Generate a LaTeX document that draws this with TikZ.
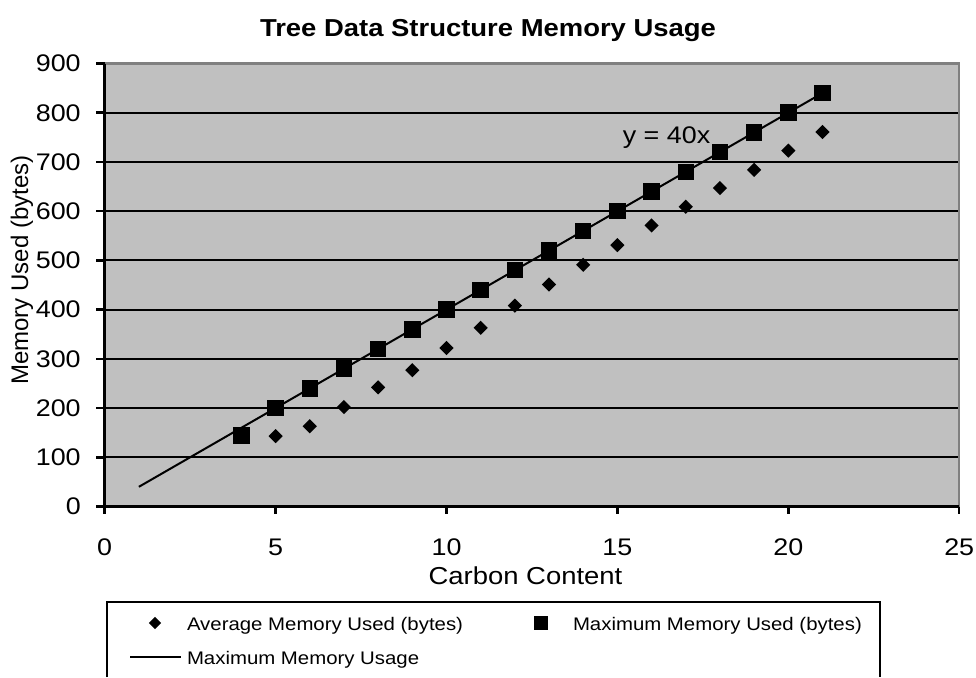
\documentclass[tikz,border=0pt]{standalone}
\usepackage{fontspec}
\setmainfont[FakeStretch=1.12]{Liberation Sans}
\newfontfamily\upfont{Liberation Sans}
\usepackage{xcolor}
\usetikzlibrary{shapes.geometric}

\definecolor{plotgray}{HTML}{C0C0C0}
\definecolor{framegray}{HTML}{808080}

\begin{document}
\begin{tikzpicture}[x=1pt,y=-1pt,line width=2pt]
  \tikzstyle{avg}=[diamond,fill=black,inner sep=0pt,minimum size=15pt]
  \tikzstyle{maxm}=[rectangle,fill=black,inner sep=0pt,minimum size=16.5pt]
  \tikzstyle{ticklabel}=[inner sep=0pt,font=\fontsize{24}{28}\selectfont]
  \tikzstyle{legendlabel}=[anchor=base west,inner sep=0pt,font=\fontsize{18.2}{22}\selectfont]

  \useasboundingbox (0,0) rectangle (976,677);

  \node[anchor=base,font=\bfseries\fontsize{24.5}{30}\selectfont] (T) at (488,36.5)
    {Tree Data Structure Memory Usage};

  \begin{scope}[shift={(104.7,506.5)},x=34.18pt,y=0.4922pt]
    \fill[plotgray] (0,0) rectangle (25,900);
    \foreach \v in {100,200,...,800}
      \draw (0,\v) -- (25,\v);
    \draw[framegray,line width=2.5pt] (0,900) -- (25,900) -- (25,0);
    \draw[line width=2.5pt] (0,900) -- (0,0) -- (25,0);

    % axis ticks and numbers
    \foreach \v in {0,100,...,900} {
      \draw[line width=2.5pt] (0,\v) -- ++(-8.7pt,0pt);
      \node[ticklabel,anchor=east] (y\v) at ([xshift=-23pt]0,\v) {\v};
    }
    \foreach \x in {0,5,...,25} {
      \draw[line width=2.5pt] (\x,0) -- ++(0pt,-7.5pt);
      \node[ticklabel,anchor=base] (x\x) at ([yshift=-48.5pt]\x,0) {\x};
    }

    % trend line
    \coordinate (P) at (1,40);
    \coordinate (Q) at (21,840);
    \draw (P) -- (Q);
    \node[ticklabel,anchor=base west] (E) at (15.13,738) {y = 40x};

    % data
    \foreach \x/\v in {4/144,5/200,6/240,7/280,8/320,9/360,10/400,11/440,12/480,
                       13/520,14/560,15/600,16/640,17/680,18/720,19/760,20/800,21/840}
      \node[maxm] (m\x) at (\x,\v) {};
    \foreach \x/\v in {5/143,6/163,7/202,8/242,9/277,10/322,11/363,12/408,13/451,
                       14/491,15/531,16/571,17/609,18/647,19/684,20/723,21/761}
      \node[avg] (a\x) at (\x,\v) {};
  \end{scope}

  \node[anchor=base,inner sep=0pt,font=\fontsize{24.5}{28}\selectfont] (X) at (525.5,584)
    {Carbon Content};
  \node[inner sep=0pt,rotate=90,font=\upfont\fontsize{24}{28}\selectfont] (Y) at (22,270)
    {Memory Used (bytes)};

  % legend
  \draw (107,677) -- (107,602) -- (880,602) -- (880,677);
  \node[avg,minimum size=13pt] (LA) at (155,623) {};
  \node[legendlabel] (LAt) at (186,630) {Average Memory Used (bytes)};
  \node[maxm,minimum size=14pt] (LM) at (541,623) {};
  \node[legendlabel] (LMt) at (572,630) {Maximum Memory Used (bytes)};
  \coordinate (L1) at (130,657);
  \coordinate (L2) at (181,657);
  \draw (L1) -- (L2);
  \node[legendlabel] (LUt) at (186,664) {Maximum Memory Usage};
\end{tikzpicture}
\end{document}
